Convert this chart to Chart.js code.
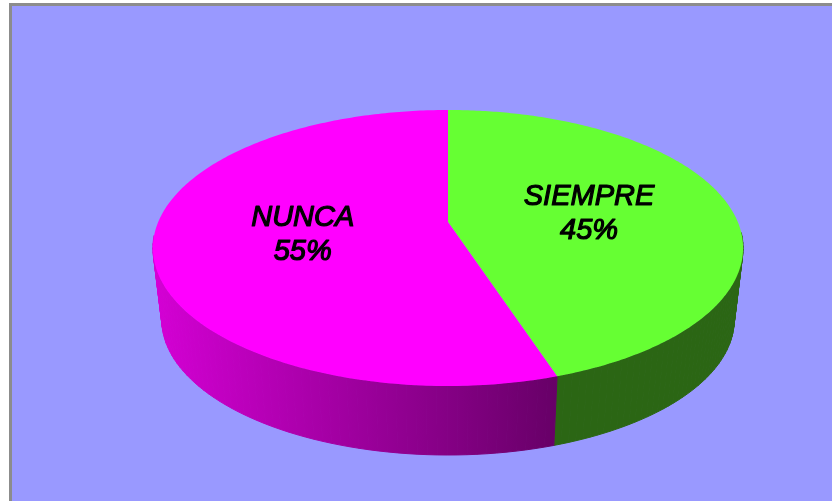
<!DOCTYPE html>
<html>
<head>
<meta charset="utf-8">
<title>Siempre / Nunca</title>
<script src="https://cdn.jsdelivr.net/npm/chart.js@4"></script>
<style>
  html, body { margin: 0; padding: 0; background: #fff; }
  canvas { display: block; }
</style>
</head>
<body>
<canvas id="grafico" width="832" height="501"></canvas>
<script>
// DATA
const categorias = ["SIEMPRE", "NUNCA"];
const valores = [45, 55];
const etiquetas = ["45%", "55%"];

// COLORS
const coresTopo = ["#66ff33", "#ff00ff"];
const coresLadoClaro = ["#2b6614", "#d400d4"];
const coresLadoEscuro = ["#2b6614", "#660066"];

// Perspective of the disc: unit circle -> screen
const centroX = 448, centroY = 222;
const escalaX = 289.8, escalaY = 91.3, fuga = -0.1884;

function projetar(ang, r) {
  const x = r * Math.cos(ang);
  const y = r * Math.sin(ang);
  const d = 1 + fuga * y;
  return { x: centroX + escalaX * x / d, y: (escalaY * y + centroY) / d };
}

// Lower rim is the same disc, a bit smaller and shifted down
function projetarBase(ang) {
  const p = projetar(ang, 1);
  return { x: centroX + (p.x - centroX) * 0.97, y: p.y * 0.98 + 76.7 };
}

const pizza3d = {
  id: "pizza3d",

  beforeDraw(chart) {
    const c = chart.ctx;
    c.save();
    c.fillStyle = "#8c8c8c";
    c.fillRect(9, 3, chart.width - 9, chart.height - 3);
    c.fillStyle = "#9999ff";
    c.fillRect(12, 6, chart.width - 12, chart.height - 6);
    c.restore();
  },

  // The library gives the angles, this only does the projection
  beforeDatasetsDraw(chart) {
    const c = chart.ctx;
    const arcos = chart.getDatasetMeta(0).data;
    c.save();

    // sides (front part only, the back is hidden by the top)
    arcos.forEach((arco, i) => {
      const grad = c.createLinearGradient(155, 0, 560, 0);
      grad.addColorStop(0, coresLadoClaro[i]);
      grad.addColorStop(1, coresLadoEscuro[i]);
      c.fillStyle = grad;
      c.strokeStyle = grad;
      c.lineWidth = 1;
      const passo = (arco.endAngle - arco.startAngle) / 120;
      for (let k = 0; k < 120; k++) {
        const a0 = arco.startAngle + passo * k;
        const a1 = a0 + passo;
        if (Math.sin(a0) < 0.1 && Math.sin(a1) < 0.1) continue;
        const t0 = projetar(a0, 1), t1 = projetar(a1, 1);
        const b0 = projetarBase(a0), b1 = projetarBase(a1);
        c.beginPath();
        c.moveTo(t0.x, t0.y);
        c.lineTo(t1.x, t1.y);
        c.lineTo(b1.x, b1.y);
        c.lineTo(b0.x, b0.y);
        c.closePath();
        c.fill();
        c.stroke();
      }
    });

    // top
    arcos.forEach((arco, i) => {
      c.fillStyle = coresTopo[i];
      c.beginPath();
      c.moveTo(centroX, centroY);
      const passo = (arco.endAngle - arco.startAngle) / 240;
      for (let k = 0; k <= 240; k++) {
        const p = projetar(arco.startAngle + passo * k, 1);
        c.lineTo(p.x, p.y);
      }
      c.closePath();
      c.fill();
    });

    // labels
    c.fillStyle = "#000";
    c.strokeStyle = "#000";
    c.lineWidth = 1.2;
    c.lineJoin = "round";
    c.font = "italic 29px 'Liberation Sans', Arial, sans-serif";
    c.textAlign = "center";
    c.textBaseline = "middle";
    arcos.forEach((arco, i) => {
      const p = projetar((arco.startAngle + arco.endAngle) / 2, 0.5);
      c.fillText(categorias[i], p.x, p.y - 14.5);
      c.strokeText(categorias[i], p.x, p.y - 14.5);
      c.fillText(etiquetas[i], p.x, p.y + 19.5);
      c.strokeText(etiquetas[i], p.x, p.y + 19.5);
    });

    c.restore();
    return false;
  }
};

new Chart(document.getElementById("grafico"), {
  type: "pie",
  data: {
    labels: categorias,
    datasets: [{
      data: valores,
      backgroundColor: coresTopo,
      borderWidth: 0
    }]
  },
  options: {
    responsive: false,
    animation: false,
    plugins: {
      legend: { display: false },
      tooltip: { enabled: false }
    }
  },
  plugins: [pizza3d]
});
</script>
</body>
</html>
